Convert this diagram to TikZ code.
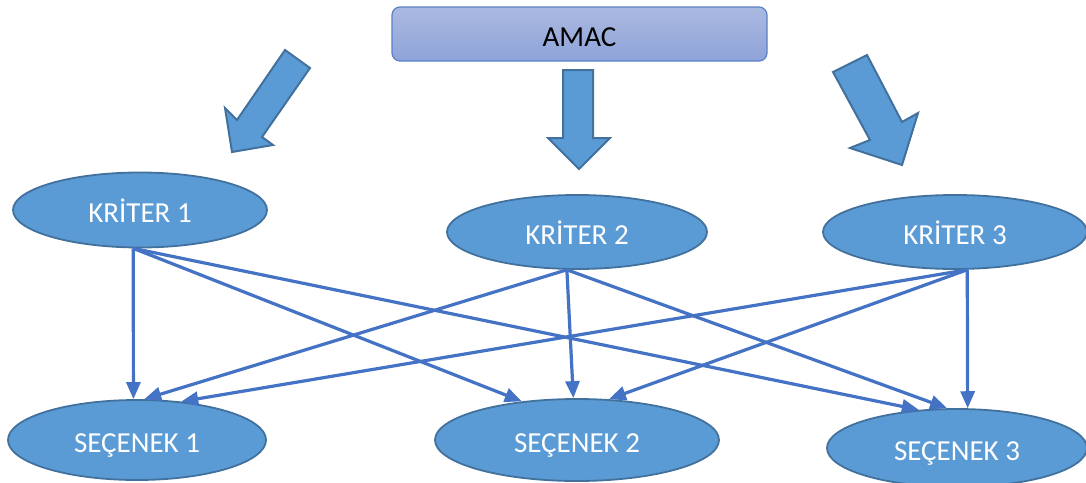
\documentclass[tikz,border=0pt]{standalone}
\usepackage{fontspec}
\setmainfont{Carlito}
\usepackage{tikz}
\usetikzlibrary{arrows.meta}
\usetikzlibrary{shapes.geometric}
\definecolor{boxtop}{HTML}{AAB9E1}
\definecolor{boxbottom}{HTML}{8EA3D8}
\definecolor{boxline}{HTML}{5B80C8}
\definecolor{ovalfill}{HTML}{5B9BD5}
\definecolor{ovalline}{HTML}{41719C}
\definecolor{linkblue}{HTML}{4472C4}

\begin{document}
\begin{tikzpicture}[x=1pt,y=1pt,
		oval/.style={ellipse,draw=ovalline,line width=1.8pt,fill=ovalfill,text=white,inner sep=0pt,
			text height=25pt,text depth=0pt,font=\fontsize{29}{34}\selectfont},
		bigarrow/.style={draw=ovalline,line width=2pt,fill=ovalfill,line join=miter}]
		\useasboundingbox (0,0) rectangle (1086,-482);

		\node[draw=boxline,line width=1.2pt,rounded corners=8pt,top color=boxtop,bottom color=boxbottom,
			minimum width=375pt,minimum height=54pt,inner sep=0pt,text height=25pt,text depth=0pt,
			font=\fontsize{29}{34}\selectfont] (amac) at (579.5,-34) {AMAC};

		\begin{scope}[every node/.style={oval}]
			\node[minimum width=254pt,minimum height=75pt] (k1) at (140,-210) {KRİTER 1};
			\node[minimum width=260pt,minimum height=74pt] (k2) at (577,-232) {KRİTER 2};
			\node[minimum width=264pt,minimum height=74pt] (k3) at (955,-232) {KRİTER 3};

			\node[minimum width=258pt,minimum height=80pt] (s1) at (137,-440) {SEÇENEK 1};
			\node[minimum width=284pt,minimum height=82pt] (s2) at (577,-440) {SEÇENEK 2};
			\node[minimum width=260pt,minimum height=78pt] (s3) at (957,-448) {SEÇENEK 3};
		\end{scope}

		% block arrows under AMAC
		\filldraw[bigarrow] (285,-50) -- (237,-120) -- (225,-108) -- (232,-152) -- (273,-145) -- (262,-137) -- (310,-68) -- cycle;
		\filldraw[bigarrow] (563,-70) -- (563,-138) -- (548,-138) -- (579,-169) -- (610,-138) -- (593,-138) -- (593,-70) -- cycle;
		\filldraw[bigarrow] (833,-72) -- (870,-140) -- (850,-148) -- (902,-165) -- (918,-113) -- (902,-122) -- (867,-55) -- cycle;

		\begin{scope}[>={Triangle[length=17pt,width=14pt]},every edge/.style={draw=linkblue,line width=3.2pt,->}]
			\path (k1.-100) edge (s1.95);
			\path (k1.-100) edge (s2.145);
			\path (k1.-100) edge (s3.135);

			\path (k2.-105) edge (s1.80);
			\path (k2.-105) edge (s2.95);
			\path (k2.-105) edge (s3.104);

			\path (k3.-72) edge (s1.41);
			\path (k3.-72) edge (s2.52);
			\path (k3.-72) edge (s3.75);
		\end{scope}
	\end{tikzpicture}
\end{document}
